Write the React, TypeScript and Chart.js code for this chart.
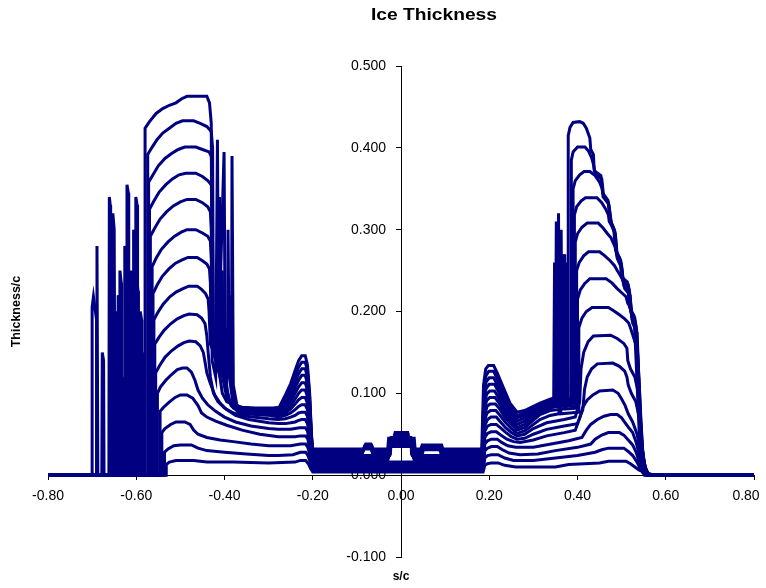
import React, { useEffect, useRef } from "react";
import { Chart, registerables } from "chart.js";

Chart.register(...registerables);

const TITLE = "Ice Thickness";
const X_TITLE = "s/c";
const Y_TITLE = "Thickness/c";
const X_TICKS = [-0.8, -0.6, -0.4, -0.2, 0, 0.2, 0.4, 0.6, 0.8];
const Y_TICKS = [-0.1, 0, 0.1, 0.2, 0.3, 0.4, 0.5];
const LINE_COLOR = "#000080";

type P = [number, number];

const curve15: P[] = [
  [-0.8, 0], [-0.7, 0], [-0.7, 0.205], [-0.697, 0.218], [-0.69, 0.19], [-0.69, 0],
  [-0.662, 0], [-0.661, 0.34], [-0.659, 0.33], [-0.658, 0],
  [-0.58, 0], [-0.58, 0.424], [-0.57, 0.432], [-0.555, 0.442], [-0.54, 0.448], [-0.525, 0.452], [-0.51, 0.455], [-0.497, 0.46], [-0.485, 0.463], [-0.44, 0.463], [-0.434, 0.455], [-0.43, 0.43],
  [-0.428, 0.14], [-0.42, 0.12], [-0.416, 0.41], [-0.413, 0.13], [-0.405, 0.1], [-0.395, 0.09], [-0.38, 0.086], [-0.36, 0.083], [-0.33, 0.082], [-0.29, 0.082], [-0.276, 0.083],
  [-0.262, 0.098], [-0.25, 0.112], [-0.24, 0.128], [-0.232, 0.14], [-0.225, 0.146], [-0.217, 0.146], [-0.212, 0.135], [-0.207, 0.1], [-0.203, 0.05], [-0.2, 0.032],
  [-0.085, 0.032], [-0.08, 0.038], [-0.068, 0.038], [-0.064, 0.032], [-0.03, 0.032], [-0.028, 0.045], [-0.014, 0.045], [-0.013, 0.052], [0.015, 0.052], [0.016, 0.045], [0.03, 0.045], [0.032, 0.032], [0.045, 0.032], [0.048, 0.037], [0.092, 0.037], [0.095, 0.032], [0.183, 0.032],
  [0.187, 0.11], [0.192, 0.13], [0.198, 0.134], [0.21, 0.134], [0.218, 0.125], [0.232, 0.107], [0.247, 0.088], [0.263, 0.077], [0.28, 0.079], [0.315, 0.088], [0.338, 0.093], [0.35, 0.095],
  [0.352, 0.31], [0.354, 0.095], [0.37, 0.096], [0.371, 0.27], [0.373, 0.096], [0.379, 0.096],
  [0.379, 0.415], [0.383, 0.425], [0.39, 0.431], [0.405, 0.432], [0.413, 0.43], [0.42, 0.424], [0.428, 0.412], [0.43, 0.398], [0.436, 0.392], [0.438, 0.372], [0.453, 0.366], [0.457, 0.345], [0.469, 0.336], [0.474, 0.312], [0.482, 0.302], [0.486, 0.276], [0.496, 0.265], [0.5, 0.242], [0.513, 0.236], [0.518, 0.205], [0.528, 0.195], [0.532, 0.15], [0.536, 0.1], [0.54, 0.05], [0.546, 0.02], [0.552, 0.01], [0.556, 0.004], [0.56, 0], [0.8, 0],
];

const curve14: P[] = [
  [-0.8, 0], [-0.69, 0], [-0.689, 0.28], [-0.687, 0],
  [-0.622, 0], [-0.621, 0.355], [-0.618, 0.345], [-0.617, 0],
  [-0.574, 0], [-0.574, 0.392], [-0.565, 0.4], [-0.553, 0.41], [-0.54, 0.418], [-0.525, 0.424], [-0.51, 0.43], [-0.495, 0.433], [-0.47, 0.433], [-0.455, 0.43], [-0.44, 0.426], [-0.43, 0.42], [-0.427, 0.4],
  [-0.425, 0.15], [-0.415, 0.13], [-0.401, 0.395], [-0.398, 0.12], [-0.39, 0.09], [-0.38, 0.084], [-0.36, 0.081], [-0.33, 0.08], [-0.29, 0.08], [-0.275, 0.08],
  [-0.262, 0.094], [-0.25, 0.106], [-0.24, 0.121], [-0.232, 0.132], [-0.225, 0.138], [-0.217, 0.138], [-0.212, 0.128], [-0.207, 0.095], [-0.203, 0.048], [-0.2, 0.03],
  [-0.086, 0.03], [-0.082, 0.036], [-0.066, 0.036], [-0.062, 0.03], [-0.028, 0.03], [-0.025, 0.043], [-0.014, 0.043], [-0.014, 0.05], [0.016, 0.05], [0.016, 0.043], [0.025, 0.043], [0.028, 0.03], [0.046, 0.03], [0.049, 0.035], [0.09, 0.035], [0.093, 0.03], [0.184, 0.03],
  [0.188, 0.105], [0.193, 0.122], [0.199, 0.127], [0.21, 0.127], [0.218, 0.118], [0.232, 0.101], [0.247, 0.084], [0.263, 0.073], [0.28, 0.076], [0.315, 0.086], [0.338, 0.091], [0.355, 0.092],
  [0.357, 0.32], [0.359, 0.092], [0.375, 0.093], [0.376, 0.26], [0.378, 0.093], [0.386, 0.093],
  [0.386, 0.385], [0.39, 0.395], [0.4, 0.401], [0.417, 0.401], [0.425, 0.396], [0.432, 0.388], [0.436, 0.38], [0.44, 0.368], [0.455, 0.362], [0.459, 0.342], [0.47, 0.333], [0.476, 0.309], [0.484, 0.299], [0.488, 0.273], [0.498, 0.262], [0.502, 0.24], [0.515, 0.233], [0.52, 0.202], [0.53, 0.192], [0.534, 0.145], [0.538, 0.095], [0.542, 0.048], [0.548, 0.018], [0.554, 0.008], [0.558, 0], [0.8, 0],
];

const curve13: P[] = [
  [-0.8, 0], [-0.655, 0], [-0.653, 0.32], [-0.65, 0.3], [-0.648, 0],
  [-0.602, 0], [-0.601, 0.34], [-0.598, 0.33], [-0.597, 0],
  [-0.572, 0], [-0.572, 0.358], [-0.562, 0.367], [-0.55, 0.378], [-0.535, 0.387], [-0.52, 0.393], [-0.505, 0.398], [-0.49, 0.401], [-0.465, 0.401], [-0.45, 0.398], [-0.435, 0.395], [-0.43, 0.39], [-0.428, 0.37],
  [-0.426, 0.16], [-0.4, 0.12], [-0.384, 0.12], [-0.383, 0.39], [-0.38, 0.11], [-0.372, 0.086], [-0.36, 0.08], [-0.33, 0.079], [-0.29, 0.079], [-0.275, 0.078],
  [-0.262, 0.09], [-0.25, 0.1], [-0.24, 0.114], [-0.232, 0.124], [-0.225, 0.13], [-0.217, 0.13], [-0.212, 0.12], [-0.207, 0.09], [-0.203, 0.045], [-0.2, 0.028],
  [-0.087, 0.028], [-0.083, 0.034], [-0.067, 0.034], [-0.063, 0.028], [-0.026, 0.028], [-0.024, 0.042], [-0.015, 0.042], [-0.015, 0.048], [0.016, 0.048], [0.016, 0.042], [0.024, 0.042], [0.026, 0.028], [0.047, 0.028], [0.05, 0.033], [0.089, 0.033], [0.092, 0.028], [0.184, 0.028],
  [0.188, 0.098], [0.193, 0.114], [0.2, 0.119], [0.21, 0.119], [0.218, 0.111], [0.232, 0.095], [0.247, 0.08], [0.263, 0.07], [0.28, 0.073], [0.315, 0.084], [0.338, 0.089], [0.36, 0.09],
  [0.363, 0.3], [0.365, 0.09], [0.39, 0.091],
  [0.39, 0.35], [0.395, 0.36], [0.405, 0.367], [0.415, 0.371], [0.428, 0.371], [0.44, 0.366], [0.45, 0.358], [0.456, 0.35], [0.458, 0.34], [0.471, 0.331], [0.477, 0.307], [0.485, 0.297], [0.489, 0.271], [0.499, 0.259], [0.503, 0.238], [0.516, 0.23], [0.521, 0.2], [0.531, 0.188], [0.535, 0.14], [0.539, 0.09], [0.543, 0.045], [0.549, 0.016], [0.556, 0.006], [0.56, 0], [0.8, 0],
];

const curve12: P[] = [
  [-0.8, 0], [-0.642, 0], [-0.641, 0.22], [-0.638, 0.21], [-0.637, 0],
  [-0.612, 0], [-0.611, 0.25], [-0.608, 0.235], [-0.607, 0],
  [-0.57, 0], [-0.57, 0.325], [-0.56, 0.335], [-0.548, 0.346], [-0.533, 0.355], [-0.518, 0.362], [-0.503, 0.367], [-0.488, 0.369], [-0.465, 0.369], [-0.45, 0.365], [-0.438, 0.36], [-0.43, 0.355], [-0.428, 0.33],
  [-0.426, 0.17], [-0.414, 0.14], [-0.411, 0.34], [-0.408, 0.13], [-0.395, 0.095], [-0.38, 0.082], [-0.36, 0.078], [-0.33, 0.077], [-0.29, 0.076], [-0.275, 0.076],
  [-0.262, 0.086], [-0.25, 0.095], [-0.24, 0.107], [-0.232, 0.116], [-0.225, 0.122], [-0.217, 0.122], [-0.212, 0.112], [-0.207, 0.085], [-0.203, 0.042], [-0.2, 0.026],
  [-0.088, 0.026], [-0.084, 0.032], [-0.068, 0.032], [-0.064, 0.026], [-0.024, 0.026], [-0.022, 0.046], [0.022, 0.046], [0.024, 0.026], [0.048, 0.026], [0.051, 0.031], [0.088, 0.031], [0.091, 0.026], [0.184, 0.026],
  [0.188, 0.092], [0.193, 0.106], [0.2, 0.111], [0.212, 0.111], [0.22, 0.103], [0.233, 0.089], [0.248, 0.076], [0.263, 0.066], [0.28, 0.07], [0.315, 0.082], [0.338, 0.087], [0.346, 0.088],
  [0.348, 0.26], [0.35, 0.088], [0.393, 0.089],
  [0.393, 0.318], [0.398, 0.328], [0.408, 0.335], [0.418, 0.339], [0.444, 0.339], [0.455, 0.333], [0.464, 0.325], [0.47, 0.318], [0.472, 0.31], [0.478, 0.304], [0.486, 0.294], [0.49, 0.268], [0.5, 0.256], [0.504, 0.235], [0.517, 0.227], [0.522, 0.197], [0.532, 0.185], [0.536, 0.135], [0.54, 0.085], [0.544, 0.042], [0.55, 0.014], [0.557, 0.005], [0.562, 0], [0.8, 0],
];

const curve11: P[] = [
  [-0.8, 0], [-0.648, 0], [-0.647, 0.2], [-0.644, 0.19], [-0.643, 0],
  [-0.627, 0], [-0.626, 0.28], [-0.623, 0.265], [-0.622, 0],
  [-0.568, 0], [-0.568, 0.292], [-0.558, 0.302], [-0.546, 0.313], [-0.531, 0.322], [-0.516, 0.329], [-0.5, 0.334], [-0.485, 0.337], [-0.465, 0.337], [-0.45, 0.333], [-0.438, 0.328], [-0.432, 0.322], [-0.43, 0.3],
  [-0.428, 0.18], [-0.4, 0.13], [-0.393, 0.13], [-0.392, 0.3], [-0.389, 0.12], [-0.38, 0.085], [-0.36, 0.077], [-0.33, 0.076], [-0.29, 0.075], [-0.275, 0.074],
  [-0.262, 0.082], [-0.25, 0.09], [-0.24, 0.1], [-0.232, 0.108], [-0.225, 0.113], [-0.217, 0.113], [-0.212, 0.104], [-0.207, 0.08], [-0.203, 0.04], [-0.2, 0.024],
  [-0.026, 0.024], [-0.024, 0.044], [0.024, 0.044], [0.026, 0.024], [0.185, 0.024],
  [0.189, 0.086], [0.194, 0.099], [0.201, 0.103], [0.212, 0.103], [0.22, 0.096], [0.233, 0.083], [0.248, 0.071], [0.263, 0.062], [0.28, 0.066], [0.315, 0.08], [0.338, 0.085], [0.366, 0.087],
  [0.368, 0.27], [0.37, 0.087], [0.395, 0.088],
  [0.395, 0.285], [0.4, 0.295], [0.41, 0.303], [0.422, 0.308], [0.447, 0.308], [0.458, 0.302], [0.468, 0.295], [0.476, 0.29], [0.48, 0.285], [0.486, 0.278], [0.49, 0.265], [0.5, 0.253], [0.505, 0.232], [0.518, 0.224], [0.523, 0.194], [0.533, 0.182], [0.537, 0.13], [0.541, 0.08], [0.545, 0.04], [0.551, 0.012], [0.558, 0.004], [0.563, 0], [0.8, 0],
];

const curve10: P[] = [
  [-0.8, 0], [-0.678, 0], [-0.677, 0.15], [-0.674, 0.14], [-0.673, 0],
  [-0.607, 0], [-0.606, 0.3], [-0.603, 0.285], [-0.602, 0],
  [-0.564, 0], [-0.564, 0.255], [-0.555, 0.265], [-0.543, 0.276], [-0.528, 0.285], [-0.513, 0.292], [-0.498, 0.297], [-0.485, 0.3], [-0.465, 0.3], [-0.45, 0.296], [-0.438, 0.292], [-0.432, 0.286], [-0.43, 0.265],
  [-0.428, 0.18], [-0.41, 0.14], [-0.406, 0.14], [-0.405, 0.25], [-0.402, 0.12], [-0.39, 0.09], [-0.37, 0.078], [-0.34, 0.076], [-0.29, 0.075], [-0.276, 0.073],
  [-0.262, 0.079], [-0.25, 0.085], [-0.24, 0.093], [-0.232, 0.1], [-0.225, 0.104], [-0.217, 0.104], [-0.212, 0.096], [-0.207, 0.074], [-0.203, 0.036], [-0.2, 0.022],
  [-0.028, 0.022], [-0.026, 0.041], [0.026, 0.041], [0.028, 0.022], [0.185, 0.022],
  [0.189, 0.08], [0.194, 0.091], [0.201, 0.095], [0.213, 0.095], [0.221, 0.089], [0.234, 0.077], [0.249, 0.066], [0.263, 0.058], [0.28, 0.062], [0.315, 0.077], [0.338, 0.082], [0.353, 0.084],
  [0.355, 0.24], [0.357, 0.084], [0.398, 0.085],
  [0.398, 0.25], [0.404, 0.26], [0.414, 0.268], [0.425, 0.273], [0.45, 0.273], [0.462, 0.268], [0.474, 0.262], [0.484, 0.256], [0.49, 0.25], [0.496, 0.245], [0.503, 0.238], [0.507, 0.228], [0.519, 0.22], [0.524, 0.19], [0.534, 0.178], [0.538, 0.125], [0.542, 0.075], [0.546, 0.036], [0.552, 0.01], [0.559, 0.003], [0.564, 0], [0.8, 0],
];

const curve09: P[] = [
  [-0.8, 0], [-0.658, 0], [-0.657, 0.17], [-0.654, 0.16], [-0.653, 0],
  [-0.6, 0], [-0.599, 0.24], [-0.596, 0.225], [-0.595, 0],
  [-0.562, 0], [-0.562, 0.222], [-0.553, 0.232], [-0.541, 0.243], [-0.526, 0.252], [-0.511, 0.259], [-0.496, 0.263], [-0.483, 0.266], [-0.462, 0.266], [-0.45, 0.262], [-0.44, 0.258], [-0.434, 0.252], [-0.432, 0.235],
  [-0.43, 0.17], [-0.4, 0.13], [-0.387, 0.12], [-0.386, 0.22], [-0.383, 0.11], [-0.375, 0.085], [-0.36, 0.077], [-0.33, 0.075], [-0.295, 0.074], [-0.276, 0.072],
  [-0.262, 0.076], [-0.25, 0.081], [-0.24, 0.087], [-0.232, 0.092], [-0.225, 0.095], [-0.217, 0.095], [-0.212, 0.088], [-0.207, 0.068], [-0.203, 0.034], [-0.2, 0.02],
  [-0.03, 0.02], [-0.028, 0.038], [0.028, 0.038], [0.03, 0.02], [0.186, 0.02],
  [0.19, 0.074], [0.195, 0.084], [0.202, 0.087], [0.214, 0.087], [0.222, 0.082], [0.235, 0.071], [0.25, 0.062], [0.263, 0.055], [0.28, 0.058], [0.315, 0.074], [0.338, 0.079], [0.37, 0.081],
  [0.372, 0.22], [0.374, 0.081], [0.4, 0.082],
  [0.4, 0.215], [0.406, 0.226], [0.416, 0.234], [0.428, 0.24], [0.465, 0.24], [0.478, 0.235], [0.49, 0.228], [0.502, 0.222], [0.51, 0.218], [0.514, 0.21], [0.52, 0.205], [0.525, 0.186], [0.535, 0.174], [0.539, 0.12], [0.543, 0.07], [0.547, 0.032], [0.553, 0.008], [0.56, 0.002], [0.565, 0], [0.8, 0],
];

const curve08: P[] = [
  [-0.8, 0], [-0.638, 0], [-0.637, 0.25], [-0.634, 0.235], [-0.633, 0],
  [-0.592, 0], [-0.591, 0.2], [-0.588, 0.19], [-0.587, 0],
  [-0.56, 0], [-0.56, 0.19], [-0.551, 0.199], [-0.539, 0.209], [-0.524, 0.218], [-0.509, 0.224], [-0.494, 0.228], [-0.481, 0.231], [-0.462, 0.231], [-0.452, 0.227], [-0.443, 0.222], [-0.437, 0.215], [-0.435, 0.2],
  [-0.432, 0.16], [-0.41, 0.13], [-0.399, 0.12], [-0.398, 0.18], [-0.395, 0.105], [-0.385, 0.085], [-0.365, 0.076], [-0.33, 0.074], [-0.295, 0.073], [-0.277, 0.071],
  [-0.262, 0.073], [-0.25, 0.076], [-0.24, 0.08], [-0.232, 0.084], [-0.225, 0.086], [-0.217, 0.086], [-0.212, 0.08], [-0.207, 0.062], [-0.203, 0.031], [-0.2, 0.018],
  [-0.03, 0.018], [-0.028, 0.035], [0.028, 0.035], [0.03, 0.018], [0.186, 0.018],
  [0.19, 0.068], [0.195, 0.076], [0.203, 0.079], [0.215, 0.079], [0.223, 0.074], [0.236, 0.065], [0.25, 0.057], [0.263, 0.051], [0.28, 0.054], [0.315, 0.068], [0.338, 0.073], [0.358, 0.075],
  [0.36, 0.2], [0.362, 0.075], [0.403, 0.077],
  [0.403, 0.18], [0.41, 0.192], [0.42, 0.2], [0.433, 0.205], [0.47, 0.205], [0.482, 0.201], [0.495, 0.196], [0.507, 0.191], [0.516, 0.186], [0.52, 0.18], [0.526, 0.17], [0.532, 0.16], [0.536, 0.15], [0.54, 0.11], [0.544, 0.065], [0.548, 0.028], [0.554, 0.006], [0.561, 0.002], [0.566, 0], [0.8, 0],
];

const curve07: P[] = [
  [-0.8, 0], [-0.618, 0], [-0.617, 0.18], [-0.614, 0.17], [-0.613, 0],
  [-0.558, 0], [-0.558, 0.16], [-0.549, 0.168], [-0.537, 0.177], [-0.522, 0.185], [-0.507, 0.191], [-0.492, 0.195], [-0.48, 0.197], [-0.462, 0.196], [-0.452, 0.192], [-0.444, 0.185], [-0.44, 0.17], [-0.437, 0.15], [-0.432, 0.12], [-0.425, 0.1], [-0.415, 0.09], [-0.4, 0.082], [-0.38, 0.076], [-0.35, 0.072], [-0.3, 0.069], [-0.278, 0.068],
  [-0.262, 0.069], [-0.25, 0.071], [-0.24, 0.073], [-0.232, 0.076], [-0.225, 0.077], [-0.217, 0.077], [-0.212, 0.072], [-0.207, 0.055], [-0.203, 0.028], [-0.2, 0.016],
  [0.186, 0.016],
  [0.19, 0.061], [0.196, 0.068], [0.204, 0.071], [0.216, 0.071], [0.224, 0.066], [0.237, 0.058], [0.25, 0.052], [0.263, 0.048], [0.28, 0.05], [0.3, 0.057], [0.33, 0.064], [0.37, 0.068], [0.395, 0.071],
  [0.405, 0.09], [0.408, 0.13], [0.414, 0.15], [0.424, 0.163], [0.436, 0.17], [0.475, 0.171], [0.49, 0.167], [0.505, 0.161], [0.512, 0.155], [0.514, 0.14], [0.52, 0.13], [0.53, 0.12], [0.538, 0.1], [0.543, 0.06], [0.548, 0.025], [0.555, 0.005], [0.562, 0], [0.8, 0],
];

const curve06: P[] = [
  [-0.8, 0], [-0.632, 0], [-0.631, 0.12], [-0.628, 0.11], [-0.627, 0],
  [-0.587, 0], [-0.586, 0.15], [-0.583, 0.14], [-0.582, 0],
  [-0.556, 0], [-0.556, 0.125], [-0.547, 0.134], [-0.535, 0.144], [-0.52, 0.152], [-0.505, 0.158], [-0.492, 0.162], [-0.48, 0.164], [-0.465, 0.163], [-0.455, 0.158], [-0.448, 0.15], [-0.444, 0.138], [-0.44, 0.125], [-0.432, 0.112], [-0.422, 0.098], [-0.41, 0.088], [-0.395, 0.08], [-0.375, 0.073], [-0.345, 0.068], [-0.3, 0.064], [-0.278, 0.063],
  [-0.262, 0.063], [-0.25, 0.064], [-0.24, 0.065], [-0.232, 0.067], [-0.225, 0.068], [-0.217, 0.068], [-0.212, 0.063], [-0.207, 0.048], [-0.203, 0.025], [-0.2, 0.014],
  [0.186, 0.014],
  [0.19, 0.054], [0.196, 0.06], [0.204, 0.062], [0.216, 0.062], [0.225, 0.058], [0.238, 0.052], [0.25, 0.047], [0.263, 0.044], [0.28, 0.045], [0.3, 0.05], [0.33, 0.056], [0.37, 0.06], [0.4, 0.063],
  [0.412, 0.08], [0.416, 0.105], [0.422, 0.12], [0.432, 0.13], [0.445, 0.136], [0.48, 0.137], [0.495, 0.133], [0.507, 0.127], [0.512, 0.12], [0.515, 0.11], [0.522, 0.1], [0.532, 0.09], [0.54, 0.07], [0.545, 0.04], [0.55, 0.018], [0.557, 0.004], [0.564, 0], [0.8, 0],
];

const curve05: P[] = [
  [-0.8, 0], [-0.602, 0], [-0.601, 0.1], [-0.598, 0.09], [-0.597, 0],
  [-0.552, 0], [-0.552, 0.1], [-0.545, 0.108], [-0.533, 0.116], [-0.52, 0.123], [-0.507, 0.129], [-0.495, 0.131], [-0.485, 0.131], [-0.475, 0.126], [-0.467, 0.116], [-0.46, 0.104], [-0.45, 0.094], [-0.438, 0.086], [-0.42, 0.078], [-0.4, 0.071], [-0.375, 0.065], [-0.34, 0.06], [-0.3, 0.057], [-0.278, 0.056],
  [-0.262, 0.056], [-0.25, 0.056], [-0.24, 0.057], [-0.23, 0.058], [-0.217, 0.058], [-0.212, 0.054], [-0.207, 0.04], [-0.203, 0.02], [-0.2, 0.012],
  [0.186, 0.012],
  [0.19, 0.046], [0.196, 0.051], [0.204, 0.053], [0.216, 0.053], [0.226, 0.049], [0.24, 0.044], [0.255, 0.041], [0.27, 0.04], [0.3, 0.043], [0.33, 0.048], [0.37, 0.052], [0.395, 0.055],
  [0.405, 0.07], [0.412, 0.083], [0.422, 0.092], [0.435, 0.098], [0.45, 0.103], [0.48, 0.104], [0.492, 0.1], [0.5, 0.093], [0.508, 0.085], [0.515, 0.075], [0.525, 0.065], [0.535, 0.05], [0.542, 0.03], [0.548, 0.012], [0.555, 0.003], [0.562, 0], [0.8, 0],
];

const curve04: P[] = [
  [-0.8, 0], [-0.612, 0], [-0.611, 0.07], [-0.608, 0.06], [-0.607, 0],
  [-0.546, 0], [-0.546, 0.078], [-0.538, 0.083], [-0.526, 0.089], [-0.512, 0.095], [-0.5, 0.098], [-0.485, 0.098], [-0.472, 0.094], [-0.46, 0.085], [-0.452, 0.076], [-0.44, 0.071], [-0.42, 0.066], [-0.395, 0.061], [-0.36, 0.055], [-0.32, 0.05], [-0.278, 0.047],
  [-0.262, 0.047], [-0.24, 0.047], [-0.228, 0.048], [-0.216, 0.048], [-0.211, 0.044], [-0.207, 0.032], [-0.203, 0.017], [-0.2, 0.01],
  [0.186, 0.01],
  [0.19, 0.038], [0.196, 0.042], [0.205, 0.044], [0.218, 0.044], [0.228, 0.04], [0.242, 0.036], [0.26, 0.034], [0.3, 0.034], [0.34, 0.038], [0.38, 0.042], [0.41, 0.046],
  [0.42, 0.055], [0.43, 0.062], [0.445, 0.068], [0.46, 0.072], [0.475, 0.074], [0.49, 0.074], [0.5, 0.07], [0.508, 0.064], [0.516, 0.058], [0.525, 0.052], [0.533, 0.04], [0.54, 0.025], [0.546, 0.01], [0.553, 0.003], [0.56, 0], [0.8, 0],
];

const curve03: P[] = [
  [-0.8, 0], [-0.542, 0], [-0.542, 0.052], [-0.535, 0.057], [-0.522, 0.062], [-0.51, 0.065], [-0.49, 0.065], [-0.478, 0.062], [-0.47, 0.055], [-0.46, 0.05], [-0.44, 0.046], [-0.41, 0.043], [-0.38, 0.041], [-0.34, 0.038], [-0.3, 0.036], [-0.278, 0.036],
  [-0.25, 0.036], [-0.228, 0.038], [-0.216, 0.038], [-0.211, 0.034], [-0.207, 0.025], [-0.203, 0.013], [-0.2, 0.008],
  [0.186, 0.008],
  [0.19, 0.03], [0.196, 0.033], [0.205, 0.035], [0.218, 0.035], [0.23, 0.031], [0.245, 0.027], [0.27, 0.025], [0.31, 0.026], [0.35, 0.03], [0.4, 0.034], [0.43, 0.038],
  [0.44, 0.044], [0.455, 0.049], [0.47, 0.052], [0.495, 0.052], [0.505, 0.049], [0.515, 0.043], [0.525, 0.037], [0.533, 0.028], [0.54, 0.016], [0.546, 0.006], [0.552, 0], [0.8, 0],
];

const curve02: P[] = [
  [-0.8, 0], [-0.536, 0], [-0.536, 0.028], [-0.528, 0.032], [-0.515, 0.036], [-0.5, 0.037], [-0.475, 0.037], [-0.46, 0.033], [-0.44, 0.03], [-0.4, 0.028], [-0.35, 0.026], [-0.3, 0.024], [-0.278, 0.024],
  [-0.245, 0.025], [-0.228, 0.028], [-0.216, 0.028], [-0.211, 0.024], [-0.207, 0.018], [-0.203, 0.01], [-0.2, 0.006],
  [0.186, 0.006],
  [0.19, 0.021], [0.196, 0.024], [0.205, 0.025], [0.22, 0.025], [0.235, 0.021], [0.255, 0.018], [0.3, 0.018], [0.35, 0.021], [0.4, 0.024], [0.44, 0.028],
  [0.455, 0.031], [0.47, 0.033], [0.505, 0.033], [0.515, 0.029], [0.525, 0.024], [0.535, 0.016], [0.542, 0.008], [0.548, 0.003], [0.555, 0], [0.8, 0],
];

const curve01: P[] = [
  [-0.8, 0], [-0.532, 0], [-0.532, 0.013], [-0.525, 0.016], [-0.51, 0.018], [-0.47, 0.018], [-0.44, 0.016], [-0.38, 0.016], [-0.3, 0.015], [-0.24, 0.016], [-0.228, 0.018], [-0.216, 0.018], [-0.21, 0.014], [-0.205, 0.008], [-0.2, 0.004],
  [0.186, 0.004],
  [0.19, 0.012], [0.196, 0.014], [0.205, 0.015], [0.22, 0.015], [0.235, 0.012], [0.26, 0.01], [0.35, 0.01], [0.38, 0.013], [0.45, 0.015], [0.47, 0.017], [0.51, 0.017], [0.52, 0.014], [0.53, 0.01], [0.54, 0.006], [0.55, 0.004], [0.56, 0.002], [0.575, 0], [0.8, 0],
];

const CURVES: P[][] = [
  curve01, curve02, curve03, curve04, curve05, curve06, curve07, curve08,
  curve09, curve10, curve11, curve12, curve13, curve14, curve15,
];

const FONT_FAMILY = '"Liberation Sans", Arial, Helvetica, sans-serif';
const Y_LABEL_GAP = 15;
const X_LAST_LABEL_SHIFT = 8;

const axisLabelShift = {
  id: "axisLabelShift",
  beforeDraw(chart: any) {
    const ys = chart.scales.y;
    if (ys) {
      const items = ys.getLabelItems(chart.chartArea);
      for (const it of items) {
        if (!it.__shifted && it.options && it.options.translation) {
          it.options.translation[0] -= Y_LABEL_GAP;
          it.__shifted = true;
        }
      }
    }
    const xs = chart.scales.x;
    if (xs) {
      const items = xs.getLabelItems(chart.chartArea);
      const last = items[items.length - 1];
      if (last && !last.__shifted && last.options && last.options.translation) {
        last.options.translation[0] -= X_LAST_LABEL_SHIFT;
        last.__shifted = true;
      }
    }
  },
};

const textPlugin = {
  id: "axisTexts",
  afterDraw(chart: any) {
    const { ctx, chartArea, scales } = chart;
    ctx.save();
    ctx.fillStyle = "#000";
    ctx.textAlign = "center";
    ctx.textBaseline = "middle";
    ctx.save();
    ctx.translate(434, 16);
    ctx.scale(1.2, 1);
    ctx.font = `bold 16px ${FONT_FAMILY}`;
    ctx.fillText(TITLE, 0, 0);
    ctx.restore();
    ctx.font = `bold 12px ${FONT_FAMILY}`;
    ctx.fillText(X_TITLE, scales.x.getPixelForValue(0), 577);
    ctx.translate(17, (chartArea.top + chartArea.bottom) / 2);
    ctx.rotate(-Math.PI / 2);
    ctx.font = `bold 12.5px ${FONT_FAMILY}`;
    ctx.fillText(Y_TITLE, 0, 0);
    ctx.restore();
  },
};

export default function App() {
  const canvasRef = useRef<HTMLCanvasElement | null>(null);

  useEffect(() => {
    const canvas = canvasRef.current;
    if (!canvas) return;
    const chart = new Chart(canvas, {
      type: "scatter",
      data: {
        datasets: CURVES.map((c, i) => ({
          label: `t${i + 1}`,
          data: c.map(([x, y]) => ({ x, y })),
          showLine: true,
          borderColor: LINE_COLOR,
          backgroundColor: LINE_COLOR,
          borderWidth: 3,
          pointRadius: 0,
          tension: 0,
          fill: false,
        })),
      },
      options: {
        animation: false,
        responsive: true,
        maintainAspectRatio: false,
        layout: { padding: { left: 48, right: 12, top: 66, bottom: 31 } },
        plugins: {
          legend: { display: false },
          title: { display: false },
          tooltip: { enabled: false },
        },
        scales: {
          x: {
            type: "linear",
            min: X_TICKS[0],
            max: X_TICKS[X_TICKS.length - 1],
            position: { y: 0 } as any,
            afterBuildTicks: (axis: any) => {
              axis.ticks = X_TICKS.map((v) => ({ value: v }));
            },
            afterFit: (axis: any) => {
              axis.paddingLeft = 0;
              axis.paddingRight = 0;
            },
            ticks: {
              color: "#000",
              font: { family: FONT_FAMILY, size: 14 },
              padding: 9,
              maxRotation: 0,
              autoSkip: false,
              callback: (v: any) => Number(v).toFixed(2),
            },
            grid: { drawOnChartArea: false, drawTicks: true, tickLength: 4, color: "#000" },
            border: { display: true, color: "#000", width: 1 },
          },
          y: {
            type: "linear",
            min: Y_TICKS[0],
            max: Y_TICKS[Y_TICKS.length - 1],
            position: { x: 0 } as any,
            afterBuildTicks: (axis: any) => {
              axis.ticks = Y_TICKS.map((v) => ({ value: v }));
            },
            afterFit: (axis: any) => {
              axis.paddingTop = 0;
              axis.paddingBottom = 0;
            },
            ticks: {
              color: "#000",
              font: { family: FONT_FAMILY, size: 14 },
              padding: 8,
              autoSkip: false,
              callback: (v: any) => Number(v).toFixed(3),
            },
            grid: { drawOnChartArea: false, drawTicks: true, tickLength: 5, color: "#000" },
            border: { display: true, color: "#000", width: 1 },
          },
        },
      },
      plugins: [axisLabelShift, textPlugin],
    });
    return () => chart.destroy();
  }, []);

  return (
    <div style={{ position: "absolute", left: 0, top: 0, width: 766, height: 588, background: "#fff" }}>
      <canvas ref={canvasRef} />
    </div>
  );
}
